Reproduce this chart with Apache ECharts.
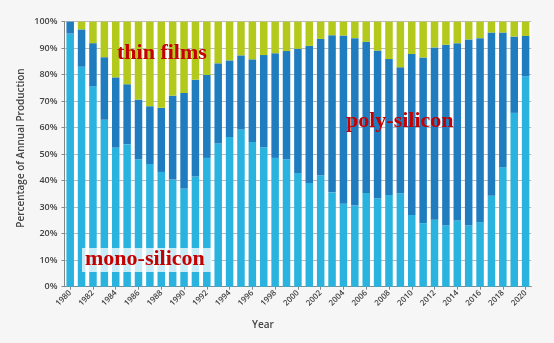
<!DOCTYPE html>
<html><head><meta charset="utf-8">
<script src="https://cdn.jsdelivr.net/npm/echarts@6/dist/echarts.min.js"></script>
<style>html,body{margin:0;padding:0;background:#f6f6f6}#c{width:554px;height:343px}</style>
</head><body><div id="c"></div>
<script>
const years = [];
for (let y = 1980; y <= 2020; y++) years.push(String(y));
const yTickLabels = ['0%','10%','20%','30%','40%','50%','60%','70%','80%','90%','100%'];
const monoSilicon = [95.5, 83, 75.6, 63, 52.5, 53.8, 48.1, 46.3, 43.3, 40.4, 37, 41.6, 48.6, 54.1, 56.5, 59.3, 54.6, 52.6, 48.6, 48.1, 42.9, 39.1, 42.1, 35.6, 31.3, 30.6, 35.4, 33.3, 34.6, 35.3, 27.1, 24, 25.3, 23.1, 25, 23.1, 24.4, 34.3, 45.1, 65.6, 79.4];
const polySilicon = [4.5, 14.1, 16.3, 23.6, 26.5, 22.6, 22.5, 21.8, 24.2, 31.7, 36.1, 36.5, 31.3, 30.2, 28.9, 28.0, 31.2, 34.8, 39.5, 40.8, 46.9, 51.8, 51.4, 59.3, 63.5, 63.2, 57.0, 55.8, 51.3, 47.5, 60.7, 62.5, 65.0, 68.2, 66.9, 70.2, 69.4, 61.6, 50.8, 28.8, 15.2];
const thinFilms = [0, 2.9, 8.1, 13.4, 21, 23.6, 29.4, 31.9, 32.5, 27.9, 26.9, 21.9, 20.1, 15.7, 14.6, 12.7, 14.2, 12.6, 11.9, 11.1, 10.2, 9.1, 6.5, 5.1, 5.2, 6.2, 7.6, 10.9, 14.1, 17.2, 12.2, 13.5, 9.7, 8.7, 8.1, 6.7, 6.2, 4.1, 4.1, 5.6, 5.4];

const chart = echarts.init(document.getElementById('c'), null, {renderer: 'canvas'});
const redText = {fill: '#c40000', font: 'bold 22px "Liberation Serif", serif'};
chart.setOption({
  backgroundColor: '#f6f6f6',
  animation: false,
  grid: {left: 64.5, right: 22.7, top: 21.7, bottom: 56.3, show: true, backgroundColor: '#ffffff', borderWidth: 0},
  xAxis: {
    type: 'category', data: years,
    axisLine: {lineStyle: {color: '#888', width: 1}},
    axisTick: {show: true, alignWithLabel: true, length: 3, lineStyle: {color: '#888'}},
    axisLabel: {interval: 1, rotate: 45, fontSize: 8, color: '#444', fontFamily: 'Open Sans', fontWeight: 600, margin: 5}
  },
  yAxis: {
    type: 'value', min: 0, max: 100, interval: 10,
    axisLine: {show: true, lineStyle: {color: '#888', width: 1}},
    axisTick: {show: true, length: 3, lineStyle: {color: '#888'}},
    splitLine: {show: true, lineStyle: {color: '#bbb', width: 1}},
    axisLabel: {fontSize: 9, color: '#444', fontFamily: 'Open Sans', fontWeight: 600, margin: 7,
      formatter: v => yTickLabels[Math.round(v / 10)]}
  },
  series: [
    {name: 'mono-silicon', type: 'bar', stack: 't', data: monoSilicon, barCategoryGap: '34%', itemStyle: {color: '#2bb3df'}},
    {name: 'poly-silicon', type: 'bar', stack: 't', data: polySilicon, itemStyle: {color: '#1f7cbf'}},
    {name: 'thin films', type: 'bar', stack: 't', data: thinFilms, itemStyle: {color: '#b3c91c'}}
  ],
  graphic: [
    {type: 'text', left: 117, top: 42, z: 100, style: Object.assign({text: 'thin films'}, redText)},
    {type: 'text', left: 346, top: 110, z: 100, style: Object.assign({text: 'poly-silicon'}, redText)},
    {type: 'rect', left: 82, top: 248, z: 99, shape: {width: 130, height: 24}, style: {fill: 'rgba(255,255,255,0.75)'}},
    {type: 'text', left: 85, top: 248, z: 100, style: Object.assign({text: 'mono-silicon'}, redText)},
    {type: 'text', x: 21, y: 148, rotation: Math.PI / 2, z: 100,
      style: {text: 'Percentage of Annual Production', fill: '#444', font: '600 10px "Open Sans"', align: 'center', verticalAlign: 'middle'}},
    {type: 'text', x: 263, y: 325, z: 100,
      style: {text: 'Year', fill: '#444', font: '600 10px "Open Sans"', align: 'center', verticalAlign: 'middle'}}
  ]
});
</script></body></html>
